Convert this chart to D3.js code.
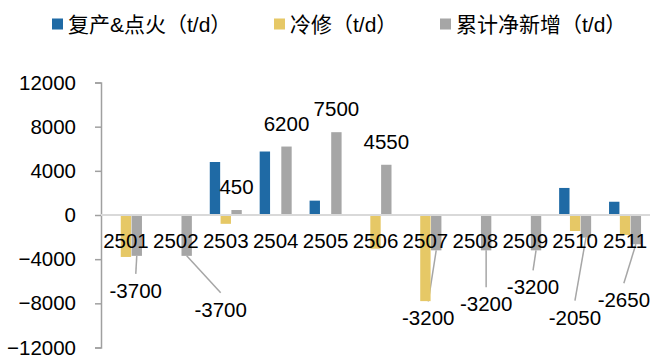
<!DOCTYPE html>
<html>
<head>
<meta charset="utf-8">
<script src="https://cdn.jsdelivr.net/npm/d3@7"></script>
<style>
  body { margin: 0; background: #fff; }
  text { font-family: "Liberation Sans", Arial, "Noto Sans CJK SC", sans-serif; fill: #000; }
</style>
</head>
<body>
<div class="chart"></div>
<script>
// data
var categories = ["2501","2502","2503","2504","2505","2506","2507","2508","2509","2510","2511"];
var restart = [0, 0, 4800, 5750, 1300, 0, 0, 0, 0, 2450, 1200];          // 复产&点火
var repair  = [-3800, 0, -800, 0, 0, -3050, -7800, 0, 0, -1450, -1800];  // 冷修
var netNew  = [-3700, -3700, 450, 6200, 7500, 4550, -3200, -3200, -3200, -2050, -2650]; // 累计净新增
var yTicks  = [12000, 8000, 4000, 0, -4000, -8000, -12000];
var seriesNames = ["复产&点火（t/d）", "冷修（t/d）", "累计净新增（t/d）"];
var color = ["#1f6aa5", "#e6c866", "#a6a6a6"];

// where Excel had the negative labels dragged to (dx from bar, dy from bar end)
var labelShift = [[-1, 42], [34, 61], null, null, null, null, [-8, 75], [0, 61], [-3, 44], [-11, 87], [-12, 63]];

var width = 653, height = 358;
var left = 101, right = 650;
var fs = "20.5px";

var svg = d3.select(".chart").append("svg")
    .attr("width", width)
    .attr("height", height);

var x = d3.scaleBand().domain(categories).range([left, right]);
var sub = d3.scaleBand().domain([0, 1, 2]).range([-16, 16]).paddingInner(0.04);
var y = d3.scaleLinear().domain([-12000, 12000]).range([347.5, 82.5]);

// legend
var legend = svg.append("g").selectAll("g")
    .data(seriesNames)
    .enter().append("g")
    .attr("transform", function(d, i) { return "translate(" + [52, 274, 440][i] + ",0)"; });
legend.append("rect")
    .attr("y", 18.5).attr("width", 11).attr("height", 11)
    .attr("fill", function(d, i) { return color[i]; });
legend.append("text")
    .attr("x", 16).attr("y", 31.5)
    .style("font-size", "21px")
    .text(function(d) { return d; });

// y axis
var yAxis = svg.append("g")
    .attr("transform", "translate(" + left + ",0)")
    .call(d3.axisLeft(y).tickValues(yTicks).tickSize(6).tickPadding(19).tickFormat(d3.format("d")));
yAxis.select(".domain").attr("stroke", "#a0a0a0").attr("stroke-width", 1.5);
yAxis.selectAll(".tick line").attr("stroke", "#a0a0a0").attr("stroke-width", 1.5);
yAxis.selectAll(".tick text")
    .style("font-size", fs)
    .style("font-family", "'Liberation Sans', Arial, sans-serif")
    .attr("fill", "#000");

// leader lines for the negative labels
var leaders = svg.append("g");
netNew.forEach(function(v, i) {
  if (!labelShift[i]) return;
  var bx = x(categories[i]) + x.bandwidth() / 2 + sub(2) + sub.bandwidth() / 2;
  var lx = bx + labelShift[i][0], ly = y(v) + labelShift[i][1];
  leaders.append("line")
      .attr("x1", bx).attr("y1", y(v))
      .attr("x2", lx).attr("y2", ly - 24)
      .attr("stroke", "#a6a6a6").attr("stroke-width", 1.5);
  leaders.append("text")
      .attr("x", lx).attr("y", ly)
      .attr("text-anchor", "middle")
      .style("font-size", fs)
      .text(v);
});

// bars
var series = [restart, repair, netNew];
series.forEach(function(vals, s) {
  svg.append("g").selectAll("rect")
      .data(vals)
      .enter().append("rect")
      .attr("x", function(d, i) { return x(categories[i]) + x.bandwidth() / 2 + sub(s); })
      .attr("width", sub.bandwidth())
      .attr("y", function(d) { return y(Math.max(0, d)); })
      .attr("height", function(d) { return Math.abs(y(d) - y(0)); })
      .attr("fill", color[s]);
});

// zero line
svg.append("line")
    .attr("x1", left).attr("x2", right)
    .attr("y1", y(0)).attr("y2", y(0))
    .attr("stroke", "#d9d9d9").attr("stroke-width", 2);

// labels above the positive net bars
svg.append("g").selectAll("text")
    .data(netNew)
    .enter().filter(function(d) { return d > 0; })
    .append("text")
    .attr("x", function(d) {
      var k = netNew.indexOf(d);
      return x(categories[k]) + x.bandwidth() / 2 + sub(2) + sub.bandwidth() / 2;
    })
    .attr("y", function(d) { return y(d) - 16; })
    .attr("text-anchor", "middle")
    .style("font-size", fs)
    .text(function(d) { return d; });

// category labels sit on top of the bars
svg.append("g").selectAll("text")
    .data(categories)
    .enter().append("text")
    .attr("x", function(d) { return x(d) + x.bandwidth() / 2; })
    .attr("y", 248)
    .attr("text-anchor", "middle")
    .style("font-size", fs)
    .text(function(d) { return d; });
</script>
</body>
</html>
